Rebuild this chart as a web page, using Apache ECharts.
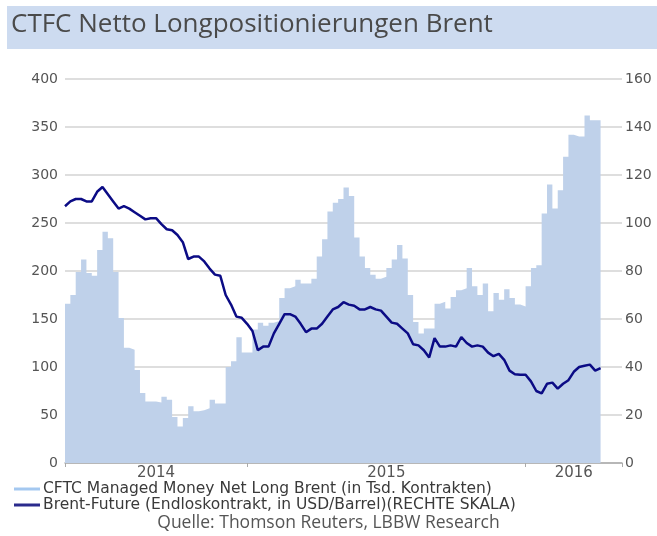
<!DOCTYPE html>
<html>
<head>
<meta charset="utf-8">
<title>CTFC Netto Longpositionierungen Brent</title>
<script src="https://cdn.jsdelivr.net/npm/echarts@6/dist/echarts.min.js"></script>
<style>
  html, body { margin: 0; padding: 0; background: #fff; }
  #chart { width: 657px; height: 536px; }
</style>
</head>
<body>
<div id="chart"></div>
<script>
// weekly categories (COT report dates, Tuesdays)
const weekStart = '2014-05-06';
const weekCount = 105;

// CFTC managed money net long Brent, Tsd. Kontrakte (left axis)
const cftcNetLong = [
  166, 175, 199, 212, 198, 195, 222, 241, 234, 199,
  151, 120, 118, 97, 73, 64, 64, 63, 69, 66,
  48, 38, 47, 59, 54, 55, 57, 66, 62, 62,
  100, 106, 131, 115, 115, 139, 146, 143, 146, 148,
  172, 182, 184, 191, 187, 187, 192, 215, 233, 262,
  271, 275, 287, 278, 235, 215, 203, 196, 192, 194,
  203, 212, 227, 213, 175, 147, 135, 140, 140, 166,
  168, 161, 173, 180, 182, 203, 184, 175, 187, 158,
  177, 170, 181, 172, 165, 163, 184, 203, 206, 260,
  290, 265, 284, 319, 342, 340, 340, 362, 357, 357,
  357
];

// Brent future, USD/Barrel (right axis)
const brentFuture = [
  107, 109, 110, 110, 109, 109, 113, 115, 112, 109,
  106, 107, 106, 104.5, 103, 101.5, 102, 102, 99.5, 97.4,
  97, 95, 92, 85, 86, 86, 84, 81, 78.5, 78,
  70, 66, 61, 60.5, 58, 55, 47, 48.5, 48.5, 54,
  58, 62, 62, 61, 58, 54.5, 56, 56, 58, 61,
  64, 65, 67, 66, 65.5, 64, 64, 65, 64, 63.5,
  61, 58.5, 58, 56, 54, 49.5, 49, 47, 44, 52,
  48.5, 48.5, 49, 48.5, 52.5, 50, 48.5, 49, 48.5, 46,
  44.5, 45.5, 43, 38.5, 37, 36.8, 36.8, 34, 30, 29,
  33, 33.5, 31, 33, 34.5, 38, 40, 40.5, 41, 38.5,
  39.5
];

const leftTicks = { min: 0, max: 400, interval: 50 };
const rightTicks = { min: 0, max: 160, interval: 20 };

const seriesNames = [
  'CFTC Managed Money Net Long Brent (in Tsd. Kontrakten)',
  'Brent-Future (Endloskontrakt, in USD/Barrel)(RECHTE SKALA)'
];

// build the week list
const weeks = [];
const t0 = Date.parse(weekStart + 'T00:00:00Z');
for (let i = 0; i < weekCount; i++) {
  weeks.push(new Date(t0 + i * 7 * 86400000).toISOString().slice(0, 10));
}
const yearOf = i => weeks[i].slice(0, 4);

// label each year in the middle of its visible weeks
const yearMid = {};
const yearSpan = {};
weeks.forEach((w, i) => {
  const y = yearOf(i);
  if (!yearSpan[y]) yearSpan[y] = [i, i];
  yearSpan[y][1] = i;
});
Object.keys(yearSpan).forEach(y => {
  yearMid[Math.floor((yearSpan[y][0] + yearSpan[y][1]) / 2)] = y;
});

// ticks at the start, at year changes and at the end
function isTick(i) {
  if (i === 0 || i === weekCount - 1) return true;
  return yearOf(i) !== yearOf(i + 1);
}

const axisFont = 'DejaVu Sans, Verdana, sans-serif';
const chart = echarts.init(document.getElementById('chart'));

chart.setOption({
  backgroundColor: '#fff',
  animation: false,
  graphic: [{
    type: 'rect',
    left: 7, top: 6, z: -10,
    shape: { width: 650, height: 43 },
    style: { fill: '#cddbf0' }
  }],
  title: [
    {
      text: 'CTFC Netto Longpositionierungen Brent',
      left: 11, top: 12, padding: 0,
      textStyle: { fontFamily: 'Open Sans', fontSize: 26, fontWeight: 'normal', color: '#4a4a4a' }
    },
    {
      text: 'Quelle: Thomson Reuters, LBBW Research',
      left: 'center', top: 514, padding: 0,
      textStyle: { fontFamily: 'Open Sans', fontSize: 17.5, fontWeight: 'normal', color: '#555' }
    }
  ],
  legend: {
    orient: 'vertical',
    left: 14, top: 481,
    padding: 0,
    itemGap: 0,
    itemWidth: 26, itemHeight: 3,
    icon: 'rect',
    textStyle: { fontFamily: axisFont, fontSize: 15.5, color: '#3a3a3a', lineHeight: 13, padding: [0, 0, 0, -2] },
    data: [
      { name: seriesNames[0], itemStyle: { color: '#a4c8f0' } },
      { name: seriesNames[1], itemStyle: { color: '#2a2a8c' } }
    ]
  },
  grid: { left: 65, right: 35, top: 79, bottom: 73 },
  xAxis: {
    type: 'category',
    data: weeks,
    boundaryGap: false,
    axisLine: { lineStyle: { color: '#aaa', width: 1.5 } },
    axisTick: { interval: isTick, length: 4, lineStyle: { color: '#aaa' } },
    axisLabel: {
      interval: i => yearMid[i] !== undefined,
      formatter: (v, i) => yearMid[i] || '',
      margin: 3,
      fontFamily: axisFont, fontSize: 15, color: '#555'
    },
    splitLine: { show: false }
  },
  yAxis: [
    {
      type: 'value',
      min: leftTicks.min, max: leftTicks.max, interval: leftTicks.interval,
      axisLine: { show: false },
      axisTick: { show: false },
      axisLabel: { margin: 7, fontFamily: axisFont, fontSize: 14, color: '#555' },
      splitLine: { lineStyle: { color: '#d3d3d3', width: 1.5 } }
    },
    {
      type: 'value',
      min: rightTicks.min, max: rightTicks.max, interval: rightTicks.interval,
      axisLine: { show: false },
      axisTick: { show: false },
      axisLabel: { margin: 3, fontFamily: axisFont, fontSize: 14, color: '#555' },
      splitLine: { show: false }
    }
  ],
  series: [
    {
      name: seriesNames[0],
      type: 'line',
      step: 'end',
      yAxisIndex: 0,
      data: cftcNetLong,
      symbol: 'none',
      itemStyle: { color: '#a4c8f0' },
      lineStyle: { width: 0 },
      areaStyle: { color: '#bfd1ea', opacity: 1 },
      z: 2
    },
    {
      name: seriesNames[1],
      type: 'line',
      yAxisIndex: 1,
      data: brentFuture,
      symbol: 'none',
      itemStyle: { color: '#0b0b85' },
      lineStyle: { color: '#0b0b85', width: 2.5 },
      z: 3
    }
  ]
});
</script>
</body>
</html>
